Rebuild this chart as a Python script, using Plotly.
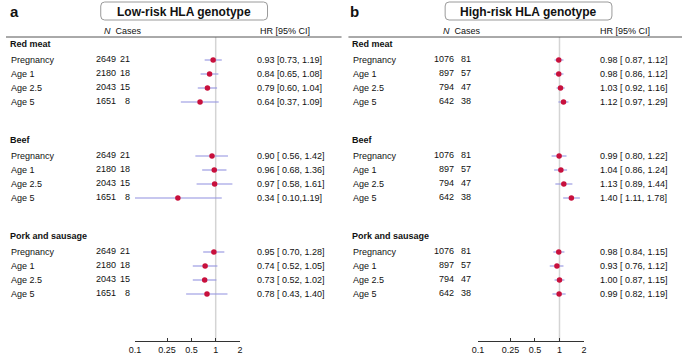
import plotly.graph_objects as go
import math

W, H = 685, 358

# ---------------- data ----------------
groups = ["Red meat", "Beef", "Pork and sausage"]
timepoints = ["Pregnancy", "Age 1", "Age 2.5", "Age 5"]

low_n = [2649, 2180, 2043, 1651]
low_cases = [21, 18, 15, 8]
low_hr = [[0.93, 0.84, 0.79, 0.64], [0.90, 0.96, 0.97, 0.34], [0.95, 0.74, 0.73, 0.78]]
low_lo = [[0.73, 0.65, 0.60, 0.37], [0.56, 0.68, 0.58, 0.10], [0.70, 0.52, 0.52, 0.43]]
low_hi = [[1.19, 1.08, 1.04, 1.09], [1.42, 1.36, 1.61, 1.19], [1.28, 1.05, 1.02, 1.40]]
low_labels = [
    ["0.93 [0.73, 1.19]", "0.84 [0.65, 1.08]", "0.79 [0.60, 1.04]", "0.64 [0.37, 1.09]"],
    ["0.90 [ 0.56, 1.42]", "0.96 [ 0.68, 1.36]", "0.97 [ 0.58, 1.61]", "0.34 [ 0.10,1.19]"],
    ["0.95 [ 0.70, 1.28]", "0.74 [ 0.52, 1.05]", "0.73 [ 0.52, 1.02]", "0.78 [ 0.43, 1.40]"],
]

high_n = [1076, 897, 794, 642]
high_cases = [81, 57, 47, 38]
high_hr = [[0.98, 0.98, 1.03, 1.12], [0.99, 1.04, 1.13, 1.40], [0.98, 0.93, 1.00, 0.99]]
high_lo = [[0.87, 0.86, 0.92, 0.97], [0.80, 0.86, 0.89, 1.11], [0.84, 0.76, 0.87, 0.82]]
high_hi = [[1.12, 1.12, 1.16, 1.29], [1.22, 1.24, 1.44, 1.78], [1.15, 1.12, 1.15, 1.19]]
high_labels = [
    ["0.98 [ 0.87, 1.12]", "0.98 [ 0.86, 1.12]", "1.03 [ 0.92, 1.16]", "1.12 [ 0.97, 1.29]"],
    ["0.99 [ 0.80, 1.22]", "1.04 [ 0.86, 1.24]", "1.13 [ 0.89, 1.44]", "1.40 [ 1.11, 1.78]"],
    ["0.98 [ 0.84, 1.15]", "0.93 [ 0.76, 1.12]", "1.00 [ 0.87, 1.15]", "0.99 [ 0.82, 1.19]"],
]

tick_vals = [0.1, 0.25, 0.5, 1, 2]
tick_text = ["0.1", "0.25", "0.5", "1", "2"]

# ---------------- layout helpers ----------------
FONT = "Liberation Sans, Arial, sans-serif"
TXT = "#111111"
CI_COL = "rgba(150,150,225,0.7)"
DOT_COL = "#c8103c"


def px(x):
    return x / W


def hdr_y(g):
    return 44 + 96 * g


def row_y(g, i):
    return hdr_y(g) + 16 + 14 * i


panels = [
    dict(letter="a", title="Low-risk HLA genotype", xaxis="x", x0=0, line=(0, 340),
         box=(96, 265), lab=3, ncol=113, ccol=128, nhead=97, hrcol=252, hrhead=255,
         axdom=(130.7, 237.1),
         n=low_n, cases=low_cases, hr=low_hr, lo=low_lo, hi=low_hi, labels=low_labels),
    dict(letter="b", title="High-risk HLA genotype", xaxis="x2", x0=345, line=(347, 685),
         box=(445, 614), lab=350, ncol=456, ccol=473, nhead=441, hrcol=600, hrhead=600,
         axdom=(478.3, 585.7),
         n=high_n, cases=high_cases, hr=high_hr, lo=high_lo, hi=high_hi, labels=high_labels),
]

fig = go.Figure()
annotations = []
shapes = []
AXIS_Y = 341

for p in panels:
    xa = p["xaxis"]
    # CI lines and points
    for g in range(len(groups)):
        for i in range(len(timepoints)):
            y = row_y(g, i)
            fig.add_trace(go.Scatter(
                x=[p["lo"][g][i], p["hi"][g][i]], y=[y, y], mode="lines",
                line=dict(color=CI_COL, width=1.6), xaxis=xa, yaxis="y",
                showlegend=False, hoverinfo="skip"))
        fig.add_trace(go.Scatter(
            x=p["hr"][g], y=[row_y(g, i) for i in range(len(timepoints))],
            mode="markers", marker=dict(color=DOT_COL, size=5.5),
            xaxis=xa, yaxis="y", showlegend=False))

    # reference line at HR = 1
    shapes.append(dict(type="line", xref=xa, yref="y", x0=1, x1=1, y0=37, y1=AXIS_Y,
                       line=dict(color="#d4d4d4", width=1.5), layer="below"))
    # header rule
    shapes.append(dict(type="line", xref="paper", yref="y", x0=px(p["line"][0]), x1=px(p["line"][1]),
                       y0=37, y1=37, line=dict(color="#555555", width=1)))
    # rounded title box
    bx0, bx1, by0, by1, r = p["box"][0], p["box"][1], 2, 20, 4
    path = (f"M {px(bx0 + r)} {by0} L {px(bx1 - r)} {by0} Q {px(bx1)} {by0} {px(bx1)} {by0 + r} "
            f"L {px(bx1)} {by1 - r} Q {px(bx1)} {by1} {px(bx1 - r)} {by1} "
            f"L {px(bx0 + r)} {by1} Q {px(bx0)} {by1} {px(bx0)} {by1 - r} "
            f"L {px(bx0)} {by0 + r} Q {px(bx0)} {by0} {px(bx0 + r)} {by0} Z")
    shapes.append(dict(type="path", xref="paper", yref="y", path=path,
                       line=dict(color="#9a9a9a", width=1)))
    annotations.append(dict(text=f"<b>{p['title']}</b>", xref="paper", yref="y",
                            x=px((bx0 + bx1) / 2), y=11.5, showarrow=False,
                            xanchor="center", yanchor="middle",
                            font=dict(size=12, family=FONT, color=TXT)))
    # panel letter
    annotations.append(dict(text=f"<b>{p['letter']}</b>", xref="paper", yref="y",
                            x=px(p["x0"] + 2), y=11, showarrow=False,
                            xanchor="left", yanchor="middle",
                            font=dict(size=15, family=FONT, color=TXT)))
    # column headers
    annotations.append(dict(text="<i>N</i>  Cases", xref="paper", yref="y",
                            x=px(p["nhead"]), y=31, showarrow=False,
                            xanchor="left", yanchor="middle",
                            font=dict(size=9, family=FONT, color=TXT)))
    annotations.append(dict(text="HR [95% CI]", xref="paper", yref="y",
                            x=px(p["hrhead"]), y=31, showarrow=False,
                            xanchor="left", yanchor="middle",
                            font=dict(size=9, family=FONT, color=TXT)))
    for g, gname in enumerate(groups):
        annotations.append(dict(text=f"<b>{gname}</b>", xref="paper", yref="y",
                                x=px(p["lab"] - 1), y=hdr_y(g), showarrow=False,
                                xanchor="left", yanchor="middle",
                                font=dict(size=9, family=FONT, color=TXT)))
        for i, tp in enumerate(timepoints):
            y = row_y(g, i)
            annotations.append(dict(text=tp, xref="paper", yref="y", x=px(p["lab"]), y=y,
                                    showarrow=False, xanchor="left", yanchor="middle",
                                    font=dict(size=9, family=FONT, color=TXT)))
            annotations.append(dict(text=str(p["n"][i]), xref="paper", yref="y",
                                    x=px(p["ncol"]), y=y - 1, showarrow=False,
                                    xanchor="right", yanchor="middle",
                                    font=dict(size=9, family=FONT, color=TXT)))
            annotations.append(dict(text=str(p["cases"][i]), xref="paper", yref="y",
                                    x=px(p["ccol"]), y=y - 1, showarrow=False,
                                    xanchor="right", yanchor="middle",
                                    font=dict(size=9, family=FONT, color=TXT)))
            annotations.append(dict(text=p["labels"][g][i], xref="paper", yref="y",
                                    x=px(p["hrcol"]), y=y, showarrow=False,
                                    xanchor="left", yanchor="middle",
                                    font=dict(size=9, family=FONT, color=TXT)))

axis_common = dict(type="log", range=[-1, math.log10(2)], tickvals=tick_vals, ticktext=tick_text,
                   showline=True, linecolor="#333333", linewidth=1, ticks="inside", ticklen=3,
                   tickcolor="#333333", showgrid=False, zeroline=False,
                   tickfont=dict(size=9, family=FONT, color=TXT),
                   anchor="free", position=1 - AXIS_Y / H, fixedrange=True)

fig.update_layout(
    width=W, height=H,
    margin=dict(l=0, r=0, t=0, b=0),
    paper_bgcolor="white", plot_bgcolor="white",
    xaxis=dict(domain=[px(panels[0]["axdom"][0]), px(panels[0]["axdom"][1])], **axis_common),
    xaxis2=dict(domain=[px(panels[1]["axdom"][0]), px(panels[1]["axdom"][1])], **axis_common),
    yaxis=dict(range=[H, 0], domain=[0, 1], visible=False, fixedrange=True),
    shapes=shapes, annotations=annotations, showlegend=False,
)

fig.write_html("out.html")
